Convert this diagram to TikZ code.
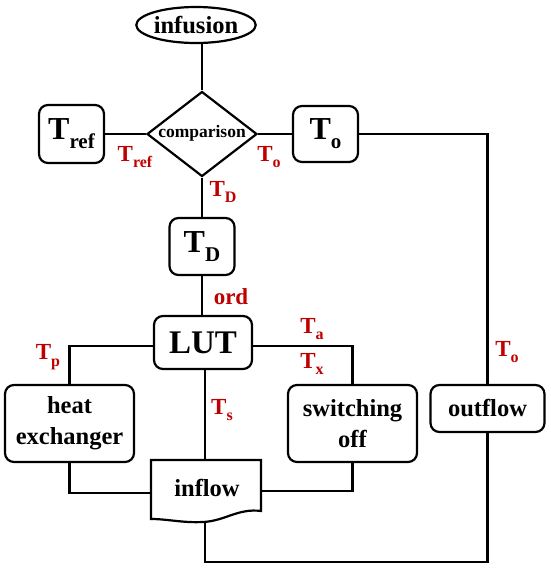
\documentclass[tikz,border=0pt]{standalone}
\usepackage{fontspec}
\setmainfont{Liberation Serif}
\usetikzlibrary{shapes.geometric}
\definecolor{lblred}{RGB}{192,0,0}
\newcommand\Tsub[2]{T\raisebox{-0.28em}{\fontsize{#1}{#1}\selectfont #2}}
\tikzset{
 box/.style={draw, rounded corners=9pt, line width=2.2pt, inner sep=0pt, font=\bfseries\fontsize{24.5}{31}\selectfont, align=center},
 bigT/.style={font=\bfseries\fontsize{32}{32}\selectfont},
 lbl/.style={text=lblred, font=\bfseries\fontsize{23}{23}\selectfont, inner sep=0pt},
 conn/.style={line width=2.2pt},
}
\begin{document}
\begin{tikzpicture}[x=1pt,y=-1pt]
\useasboundingbox[fill=white] (0,0) rectangle (550,571);
% nodes
\node[draw, ellipse, line width=2.2pt, minimum width=115, minimum height=36, inner sep=0pt, font=\bfseries\fontsize{24.5}{24.5}\selectfont] (inf) at (196,25) {infusion};
\node[draw, diamond, line width=2.2pt, minimum width=110, minimum height=85, inner sep=0pt] (cmp) at (202,134) {};
\node[font=\bfseries\fontsize{17.5}{17.5}\selectfont, inner sep=0pt] (cmptxt) at (202,133) {comparison};
\node[box, bigT, minimum width=65, minimum height=58] (Tref) at (71.5,134) {\Tsub{21}{ref}};
\node[box, bigT, minimum width=65, minimum height=56] (To) at (325.5,134) {\Tsub{21}{o}};
\node[box, bigT, minimum width=65, minimum height=57] (TD) at (202,246.5) {\Tsub{21}{D}};
\node[box, font=\bfseries\fontsize{33}{33}\selectfont, minimum width=98, minimum height=53] (LUT) at (203,342.5) {LUT};
\node[box, minimum width=129, minimum height=77] (heat) at (69.5,423.5) {heat\\exchanger};
\node[box, minimum width=129, minimum height=77] (sw) at (352.5,423.5) {switching\\off};
\node[box, minimum width=114, minimum height=47] (out) at (487.5,408.5) {outflow};
\node[font=\bfseries\fontsize{24.5}{24.5}\selectfont, inner sep=0pt] (inflow) at (207,488) {inflow};
\draw[line width=2.2pt, line join=miter] (151,460) -- (261,460) -- (261,511)
  .. controls (238,508) and (225,521) .. (203,522)
  .. controls (182,523) and (168,519) .. (151,519) -- cycle;
\coordinate (inN) at (205,460);
\coordinate (inS) at (205,522);
\coordinate (inW) at (151,493);
\coordinate (inE) at (261,491);
\coordinate (bot) at (205,562);
% connectors
\draw[conn] (inf.south -| cmp.north) -- (cmp.north);
\draw[conn] (Tref.east) -- (cmp.west);
\draw[conn] (cmp.east) -- (To.west);
\draw[conn] (To.east) -| (out.north);
\draw[conn] (cmp.south) -- (TD.north);
\draw[conn] (TD.south) -- (TD.south |- LUT.north);
\draw[conn] ([yshift=-3.5pt]LUT.west) -| (heat.north);
\draw[conn] ([yshift=-3.5pt]LUT.east) -| (sw.north);
\draw[conn] (LUT.south -| inN) -- (inN);
\draw[conn] (heat.south) |- (inW);
\draw[conn] (sw.south) |- (inE);
\draw[conn] (inS) -- (bot) -| (out.south);
% labels
\node[lbl] (lTref) at (135,157) {\Tsub{16}{ref}};
\node[lbl] (lTo) at (269,157) {\Tsub{16}{o}};
\node[lbl] (lTD) at (223,192) {\Tsub{16}{D}};
\node[lbl] (lord) at (231,297) {ord};
\node[lbl] (lTa) at (312,329) {\Tsub{16}{a}};
\node[lbl] (lTx) at (312,364) {\Tsub{16}{x}};
\node[lbl] (lTp) at (48,357) {\Tsub{16}{p}};
\node[lbl] (lTs) at (222,410) {\Tsub{16}{s}};
\node[lbl] (lTo2) at (507,352) {\Tsub{16}{o}};
\end{tikzpicture}
\end{document}
